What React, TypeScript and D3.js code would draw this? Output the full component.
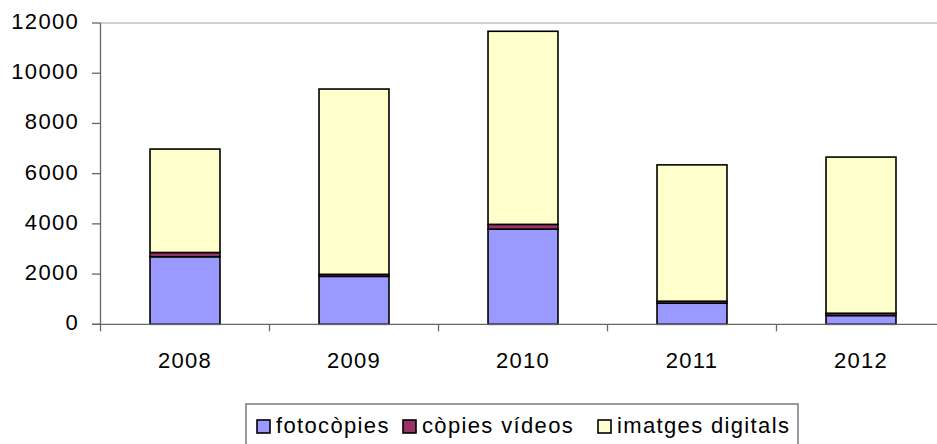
import React from "react";
import * as d3 from "d3";

const years = ["2008", "2009", "2010", "2011", "2012"];
const fotocopies = [2690, 1910, 3790, 840, 350];
const copiesVideos = [170, 80, 190, 80, 90];
const imatgesDigitals = [4120, 7380, 7690, 5430, 6220];
const yTicks = [0, 2000, 4000, 6000, 8000, 10000, 12000];
const seriesNames = ["fotocòpies", "còpies vídeos", "imatges digitals"];
const seriesColors = ["#9999ff", "#993366", "#ffffcc"];

export default function App() {
  const W = 937, H = 444;
  const left = 100.5, zeroY = 324.3, topY = 23;
  const catW = 169;
  const x = d3.scaleBand<string>().domain(years).range([left, left + catW * years.length]).paddingInner(0.586).paddingOuter(0.293);
  const y = d3.scaleLinear().domain([0, 12000]).range([zeroY, topY]);
  const rows = years.map((yr, i) => ({ year: yr, f: fotocopies[i], v: copiesVideos[i], d: imatgesDigitals[i] }));
  const stack = d3.stack<any>().keys(["f", "v", "d"])(rows);
  const font = "'Liberation Sans', Arial, sans-serif";
  const legendX = [257, 403, 598];
  return (
    <svg width={W} height={H} style={{ position: "absolute", left: 0, top: 0, background: "#fff" }}>
      <line x1={left} x2={W} y1={y(12000)} y2={y(12000)} stroke="#c0c0c0" strokeWidth={1.5} />
      {stack.map((s, si) =>
        s.map((d, i) => (
          <rect key={si + "-" + i} x={x(years[i])!} width={x.bandwidth()} y={y(d[1])} height={y(d[0]) - y(d[1])}
            fill={seriesColors[si]} stroke="#000" strokeWidth={1.6} />
        ))
      )}
      <line x1={left} x2={left} y1={topY} y2={zeroY + 7} stroke="#666" strokeWidth={1.3} />
      <line x1={92} x2={W} y1={zeroY} y2={zeroY} stroke="#666" strokeWidth={1.3} />
      {yTicks.map((t) => (
        <g key={t}>
          <line x1={92} x2={left} y1={y(t)} y2={y(t)} stroke="#666" strokeWidth={1.3} />
          <text x={79} y={y(t) + 6} textAnchor="end" fontFamily={font} fontSize={22} letterSpacing={1.3} fill="#000">{t}</text>
        </g>
      ))}
      {years.map((yr, i) => (
        <g key={yr}>
          {i > 0 && <line x1={left + catW * i} x2={left + catW * i} y1={zeroY} y2={zeroY + 7} stroke="#666" strokeWidth={1.3} />}
          <text x={x(yr)! + x.bandwidth() / 2} y={368} textAnchor="middle" fontFamily={font} fontSize={22} letterSpacing={1.3} fill="#000">{yr}</text>
        </g>
      ))}
      <rect x={246} y={404} width={552} height={50} fill="#fff" stroke="#666" strokeWidth={1.3} />
      {seriesNames.map((n, i) => (
        <g key={n}>
          <rect x={legendX[i]} y={420} width={13} height={13} fill={seriesColors[i]} stroke="#000" strokeWidth={1.6} />
          <text x={legendX[i] + 19} y={433} fontFamily={font} fontSize={22} letterSpacing={1.35} fill="#000">{n}</text>
        </g>
      ))}
    </svg>
  );
}
